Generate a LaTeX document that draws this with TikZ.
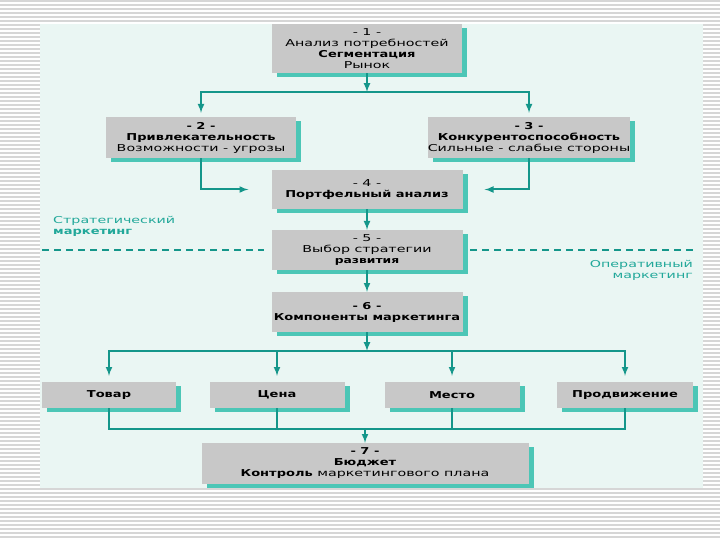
\documentclass[tikz,border=0pt]{standalone}
\usepackage{fontspec}
\setmainfont{DejaVu Sans}[FakeStretch=1.5, BoldFeatures={FakeStretch=1.37}]
\usepackage{xcolor}
\usepackage{tikz}
\usetikzlibrary{shadows}
\definecolor{panelbg}{HTML}{EAF6F3}
\definecolor{boxgray}{HTML}{C8C8C8}
\definecolor{shadowteal}{HTML}{4CC6B6}
\definecolor{lineteal}{HTML}{14968A}
\definecolor{labelteal}{HTML}{22A89A}
\definecolor{stripe}{HTML}{D6D6D6}

\begin{document}
\begin{tikzpicture}[x=1pt, y=-1pt,
  box/.style={fill=boxgray, inner sep=0pt, align=center, font=\fontsize{9.5}{11}\selectfont,
    drop shadow={shadow xshift=5pt, shadow yshift=-4pt, fill=shadowteal, opacity=1}},
  link/.style={draw=lineteal, line width=2pt},
  arr/.style={link, -latex}]
\useasboundingbox (0,0) rectangle (720,540);
% striped page and panel
\foreach \y in {1,5,...,539}
  \draw[stripe, line width=1.4pt] (0,\y) -- (720,\y);
\fill[panelbg] (40,24) rectangle (703,488);

% border between strategic and operative part
\draw[lineteal, line width=1.4pt, dash pattern=on 7pt off 5pt] (42,250) -- (264,250);
\draw[lineteal, line width=1.4pt, dash pattern=on 7pt off 5pt] (470,250) -- (696,250);
\node[text=labelteal, anchor=west, align=left, inner sep=0pt, font=\fontsize{9.5}{11}\selectfont] (strat) at (53,226.5) {Стратегический\\\textbf{маркетинг}};
\node[text=labelteal, anchor=east, align=right, inner sep=0pt, font=\fontsize{9.5}{11}\selectfont] (oper) at (693,270.5) {Оперативный\\маркетинг};

% strategic steps
\node[box, minimum width=190pt, minimum height=49pt] (n1) at (367,48.5) {- 1 -\\Анализ потребностей\\\textbf{Сегментация}\\Рынок};
\node[box, minimum width=190pt, minimum height=41pt] (n2) at (201,137.5) {\textbf{- 2 -}\\\textbf{Привлекательность}\\Возможности - угрозы};
\node[box, minimum width=190pt, minimum height=41pt] (n3) at (529,137.5) {\textbf{- 3 -}\\\textbf{Конкурентоспособность}\\Сильные - слабые стороны};
\node[box, minimum width=191pt, minimum height=39pt] (n4) at (367,189.5) {- 4 -\\\textbf{Портфельный анализ}};
\node[box, minimum width=191pt, minimum height=40pt] (n5) at (367,250) {- 5 -\\Выбор стратегии\\{\fontsize{9}{10}\selectfont\textbf{развития}}};

% operative steps
\node[box, minimum width=191pt, minimum height=40pt] (n6) at (367,312) {\textbf{- 6 -}\\\textbf{Компоненты маркетинга}};
\node[box, minimum width=134pt, minimum height=26pt] (tovar) at (109,395) {\textbf{Товар}};
\node[box, minimum width=135pt, minimum height=26pt] (cena) at (277,395) {\textbf{Цена}};
\node[box, minimum width=135pt, minimum height=26pt] (mesto) at (452,395) {\textbf{Место}};
\node[box, minimum width=136pt, minimum height=26pt] (prom) at (625,395) {\textbf{Продвижение}};
\node[box, minimum width=327pt, minimum height=41pt] (n7) at (365,463.5) {\textbf{- 7 -}\\\textbf{Бюджет}\\\textbf{Контроль} маркетингового плана};

% connectors
\coordinate (j1) at (367,92);
\draw[arr] (n1) -- (j1);
\draw[arr, shorten >=4pt] (j1) -| (n2.north);
\draw[arr, shorten >=4pt] (j1) -| (n3.north);
\draw[arr] (n2) |- ([xshift=-23pt]n4.west);
\draw[arr] (n3) |- ([xshift=22pt]n4.east);
\draw[arr] (n4) -- (n5);
\draw[arr] (n5) -- (n6);

\coordinate (j2) at (367,351);
\draw[arr] (n6) -- (j2);
\foreach \m in {tovar,cena,mesto,prom}
  \draw[arr, shorten >=6pt] (j2) -| (\m.north);

\coordinate (j3) at (365,429);
\foreach \m in {tovar,cena,mesto,prom}
  \draw[link] (\m) |- (j3);
\draw[arr] (j3) -- (n7);
\end{tikzpicture}
\end{document}
